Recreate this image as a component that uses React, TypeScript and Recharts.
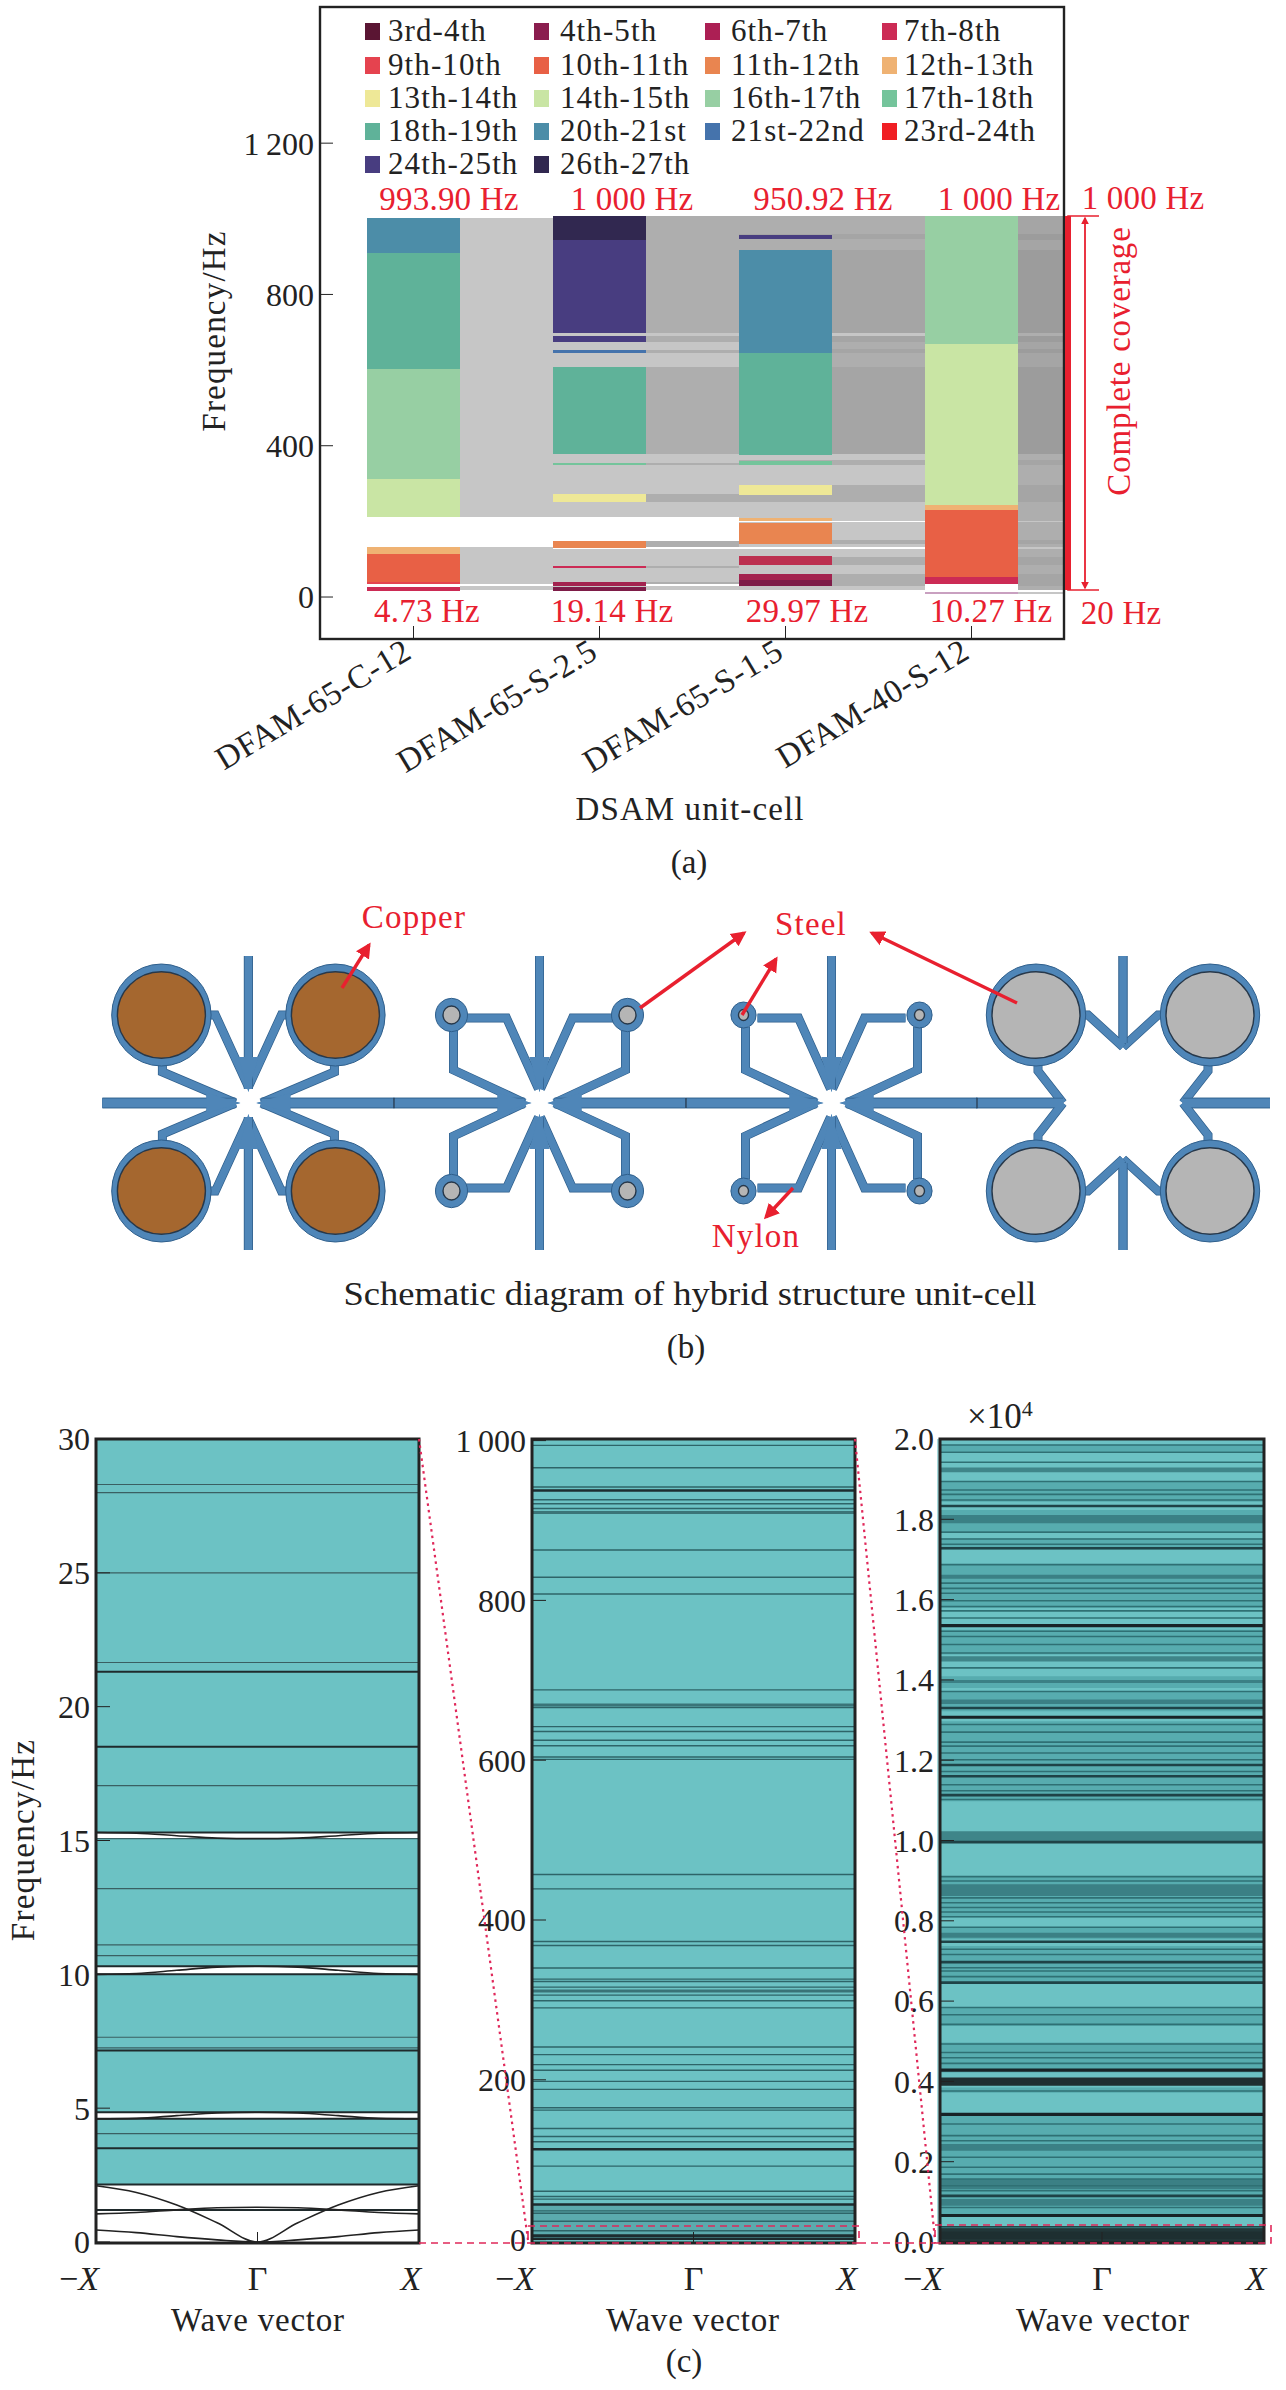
import {
  Area,
  Bar,
  BarChart,
  Cell,
  ComposedChart,
  Line,
  ReferenceArea,
  ReferenceLine,
  XAxis,
  YAxis,
} from "recharts";

const SERIF = "'Liberation Serif', serif";
const RED = "#E8202F";
const INK = "#222222";
const TEAL = "#6CC2C4";

// panel (a): legend
const legendLabels = [
  "3rd-4th", "4th-5th", "6th-7th", "7th-8th",
  "9th-10th", "10th-11th", "11th-12th", "12th-13th",
  "13th-14th", "14th-15th", "16th-17th", "17th-18th",
  "18th-19th", "20th-21st", "21st-22nd", "23rd-24th",
  "24th-25th", "26th-27th",
];
const legendColors = [
  "#5A1533", "#8A1D4E", "#AC1F54", "#CC2B55",
  "#E5434F", "#E86045", "#E98550", "#EFB273",
  "#EEE897", "#C9E5A4", "#97CFA3", "#74C49B",
  "#5FB299", "#4C8DA8", "#4573AC", "#F01F24",
  "#483D80", "#312850",
];
const bandColor: Record<string, string> = { faint: "#C9A0C0" };
legendLabels.forEach((l, i) => (bandColor[l] = legendColors[i]));
bandColor["3rd-4th"] = "#7E1C48";
bandColor["4th-5th"] = "#A3234F";
bandColor["6th-7th"] = "#BC3050";

// panel (a): band gaps per unit-cell [from, to, band]
const cellC12 = [
  [16, 26, "7th-8th"], [35, 41, "9th-10th"], [41, 113, "10th-11th"], [113, 131, "12th-13th"],
  [212, 313, "14th-15th"], [313, 602, "16th-17th"], [602, 909, "18th-19th"], [909, 1002, "20th-21st"],
];
const cellS25 = [
  [16, 26, "3rd-4th"], [29, 40, "4th-5th"], [78, 82, "7th-8th"], [130, 148, "11th-12th"],
  [252, 273, "13th-14th"], [348, 354, "17th-18th"], [379, 608, "18th-19th"], [644, 654, "21st-22nd"],
  [675, 690, "24th-25th"], [697, 945, "24th-25th"], [945, 1007, "26th-27th"],
];
const cellS15 = [
  [28, 44, "3rd-4th"], [44, 60, "4th-5th"], [84, 108, "6th-7th"], [141, 196, "11th-12th"],
  [200, 209, "12th-13th"], [270, 297, "13th-14th"], [348, 360, "17th-18th"], [375, 644, "18th-19th"],
  [644, 917, "20th-21st"], [947, 957, "24th-25th"],
];
const cellS12 = [
  [7, 12, "faint"], [35, 53, "7th-8th"], [53, 229, "10th-11th"], [229, 243, "12th-13th"],
  [243, 670, "14th-15th"], [670, 1007, "16th-17th"],
];

// panel (a): shared coverage beside each cell [from, to, number of cells]
const overlapA = [[18, 29, 1], [34, 131, 1], [212, 1002, 1]];
const overlapB = [
  [18, 29, 1], [35, 40, 2], [40, 78, 1], [78, 82, 2], [82, 127, 1], [131, 148, 2], [212, 252, 1],
  [252, 273, 2], [273, 348, 1], [348, 354, 2], [354, 379, 1], [379, 608, 2], [608, 644, 1],
  [644, 654, 2], [654, 675, 1], [675, 690, 2], [690, 697, 1], [697, 1007, 2],
];
const overlapC = [
  [18, 28, 1], [28, 60, 2], [60, 84, 1], [84, 106, 2], [106, 127, 1], [131, 141, 1], [141, 150, 2],
  [150, 198, 1], [201, 252, 1], [252, 297, 2], [297, 348, 1], [348, 362, 2], [362, 377, 1],
  [377, 608, 3], [608, 644, 2], [644, 656, 3], [656, 675, 2], [675, 690, 3], [690, 697, 1],
  [697, 917, 3], [917, 947, 2], [947, 961, 3], [961, 1007, 2],
];
const overlapD = [
  [7, 12, 1], [18, 28, 2], [28, 60, 3], [60, 84, 2], [84, 106, 3], [106, 127, 2], [127, 131, 1],
  [131, 141, 2], [141, 150, 3], [150, 198, 2], [198, 201, 1], [201, 252, 2], [252, 297, 3],
  [297, 348, 2], [348, 362, 3], [362, 377, 2], [377, 608, 4], [608, 644, 3], [644, 656, 4],
  [656, 675, 3], [675, 690, 4], [690, 697, 2], [697, 917, 4], [917, 944, 3], [944, 961, 4], [961, 1007, 3],
];
const overlapShades = ["#FFFFFF", "#C6C6C6", "#AEAEAE", "#A5A5A5", "#9C9C9C"];

const unitCells = ["DFAM-65-C-12", "DFAM-65-S-2.5", "DFAM-65-S-1.5", "DFAM-40-S-12"];
const freqTicksA = [0, 400, 800, 1200];
const topLabels = [
  ["993.90 Hz", 449], ["1 000 Hz", 632], ["950.92 Hz", 823], ["1 000 Hz", 999],
] as const;
const bottomLabels = [
  ["4.73 Hz", 427], ["19.14 Hz", 612], ["29.97 Hz", 807], ["10.27 Hz", 991],
] as const;

const toBands = (list: any[]) => list.map((s) => [s[0], s[1], bandColor[s[2]]]);
const toShades = (list: number[][]) => list.map((s) => [s[0], s[1], overlapShades[s[2]]]);

// the grey of a coverage band shows through wherever a cell has no band of its own
function withBackdrop(bands: any[], backdrop: any[]) {
  const out = [...bands];
  backdrop.forEach(([from, to, color]) => {
    let start = from;
    [...bands].sort((a, b) => a[0] - b[0]).forEach((b) => {
      if (b[1] <= start || b[0] >= to) return;
      if (b[0] > start) out.push([start, b[0], color]);
      start = Math.max(start, b[1]);
    });
    if (start < to) out.push([start, to, color]);
  });
  return out.sort((a, b) => a[0] - b[0]);
}

// stack the bands of each column, with an unfilled spacer below each one
const columns = [
  { x: 1, segs: toBands(cellC12) },
  { x: 2, segs: toShades(overlapA) },
  { x: 3, segs: withBackdrop(toBands(cellS25), toShades(overlapB)) },
  { x: 4, segs: toShades(overlapB) },
  { x: 5, segs: withBackdrop(toBands(cellS15), toShades(overlapC)) },
  { x: 6, segs: toShades(overlapC) },
  { x: 7, segs: toBands(cellS12) },
  { x: 8, segs: toShades(overlapD) },
];
const maxSegs = Math.max(...columns.map((c) => c.segs.length));
const stackRows = columns.map((c) => {
  const row: any = { x: c.x };
  let top = 0;
  for (let i = 0; i < maxSegs; i++) {
    const s = c.segs[i];
    row[`gap${i}`] = s ? (s[0] as number) - top : 0;
    row[`seg${i}`] = s ? (s[1] as number) - (s[0] as number) : 0;
    if (s) top = s[1] as number;
  }
  return row;
});
const segIndexes = Array.from({ length: maxSegs }, (_, i) => i);

// panel (c): left, low frequency dispersion
const waveVector = [-1, -0.75, -0.5, -0.25, 0, 0.25, 0.5, 0.75, 1];
const acousticLow = [0.45, 0.35, 0.2, 0.08, 0, 0.08, 0.2, 0.35, 0.45];
const acousticHigh = [2.1, 1.85, 1.38, 0.72, 0, 0.72, 1.38, 1.85, 2.1];
const opticalLow = [1.05, 1.1, 1.2, 1.28, 1.3, 1.28, 1.2, 1.1, 1.05];
const edgeCurve5 = [4.6, 4.62, 4.72, 4.82, 4.85, 4.82, 4.72, 4.62, 4.6];
const edgeCurve10 = [10, 10.03, 10.15, 10.27, 10.3, 10.27, 10.15, 10.03, 10];
const edgeCurve15 = [15.3, 15.27, 15.18, 15.09, 15.07, 15.09, 15.18, 15.27, 15.3];
const stopBandsLow = [2.15, 4.85, 10.3, 15.3];
const stopBandsHigh = [4.6, 10, 15.07, 30];
const lowRows = waveVector.map((x, i) => ({
  x,
  acousticLow: acousticLow[i],
  acousticHigh: acousticHigh[i],
  opticalLow: opticalLow[i],
  edgeCurve5: edgeCurve5[i],
  edgeCurve10: edgeCurve10[i],
  edgeCurve15: edgeCurve15[i],
  band0: [stopBandsLow[0], stopBandsHigh[0]],
  band1: [stopBandsLow[1], stopBandsHigh[1]],
  band2: [stopBandsLow[2], stopBandsHigh[2]],
  band3: [stopBandsLow[3], stopBandsHigh[3]],
}));
const lowThin = [28.3, 28.0, 25, 21.65, 17.05, 13.2, 11.1, 10.7, 7.65, 7.25, 4.05, 15.07];
const lowThick = [21.3, 18.5, 15.3, 10.3, 10, 7.15, 4.85, 4.6, 3.5, 2.15, 1.2];
const lowTicks = [0, 5, 10, 15, 20, 25, 30];

// panel (c): middle, up to 1 000 Hz
const midThin = [
  994, 966, 942, 926, 921, 915, 863, 829, 808, 688, 666, 642, 636, 625, 618, 604, 601, 457, 439,
  373, 368, 340, 326, 323, 316, 306, 299, 290, 241, 231.5, 219, 212, 198, 188, 165, 162, 139, 129,
  122.5, 92, 60.5, 54, 50.7, 36, 33, 23, 11,
];
const midMedium = [910, 669, 311];
const midThick = [937.5, 113, 44, 5, 1];
const midTicks = [0, 200, 400, 600, 800, 1000];

// panel (c): right, up to 20 000 Hz, in units of 10^4
const highThin = [
  1.985, 1.967, 1.942, 1.894, 1.873, 1.862, 1.848, 1.768, 1.751, 1.738, 1.687, 1.641, 1.628, 1.616,
  1.597, 1.583, 1.572, 1.554, 1.521, 1.508, 1.488, 1.467, 1.43, 1.371, 1.289, 1.27, 1.245, 1.235,
  1.218, 1.201, 1.172, 1.139, 1.124, 1.102, 0.91, 0.899, 0.857, 0.845, 0.833, 0.822, 0.81, 0.784,
  0.729, 0.716, 0.683, 0.675, 0.661, 0.584, 0.566, 0.542, 0.493, 0.472, 0.459, 0.445, 0.376, 0.294,
  0.265, 0.252, 0.211, 0.186, 0.169, 0.157, 0.14, 0.128, 0.086, 0.036,
];
const highThick = [1.833, 1.728, 1.33, 1.188, 1.16, 1.113, 0.996, 0.748, 0.697, 0.646, 0.115];
const highBlack = [1.535, 1.307, 0.428, 0.318, 0.066];
const highBands = [
  [1.917, 1.929], [1.79, 1.811], [1.652, 1.662], [1.446, 1.459], [1.392, 1.4], [1.34, 1.351],
  [0.994, 1.023], [0.862, 0.891], [0.758, 0.77], [0.227, 0.244], [0.132, 0.157], [0.09, 0.107],
];
const highDarkBands = [[0.389, 0.41], [0.007, 0.026]];
const highDenseZones = [
  [1.968, 1.985], [1.844, 1.894], [1.77, 1.823], [1.724, 1.753], [1.579, 1.687], [1.463, 1.525],
  [1.38, 1.409], [1.322, 1.371], [1.098, 1.297], [0.808, 0.911], [0.754, 0.784], [0.646, 0.737],
  [0.538, 0.584], [0.422, 0.497], [0.372, 0.385], [0.066, 0.314],
];
const highTicks = [0, 0.2, 0.4, 0.6, 0.8, 1, 1.2, 1.4, 1.6, 1.8, 2];
const edgeTicks = [-1, 0, 1];

const spaced = (v: number) => (v >= 1000 ? `${Math.floor(v / 1000)}\u2009${String(v % 1000).padStart(3, "0")}` : `${v}`);

function UnitCellTick({ x, y, payload }: any) {
  return (
    <text x={x} y={y} transform={`rotate(-31 ${x} ${y})`} textAnchor="end" fontFamily={SERIF} fontSize={33} letterSpacing={0.6} fill={INK}>
      {unitCells[(payload.value - 1) / 2]}
    </text>
  );
}

function WaveTick({ x, y, payload }: any) {
  const common = { y, fontFamily: SERIF, fontSize: 34, fill: INK };
  if (payload.value < 0) {
    return (
      <text {...common} x={x - 17} textAnchor="middle">
        {"\u2212"}
        <tspan fontStyle="italic">X</tspan>
      </text>
    );
  }
  if (payload.value > 0) {
    return <text {...common} x={x - 8} textAnchor="middle" fontStyle="italic">X</text>;
  }
  return <text {...common} x={x} textAnchor="middle">{"\u0393"}</text>;
}

const tickFont = { fontFamily: SERIF, fontSize: 32, fill: INK };

function BandPanel(props: {
  left: number; width: number; domain: number[]; ticks: number[]; format: (v: number) => string;
  rows: any[]; children?: any;
}) {
  const { left, width, domain, ticks, format, rows, children } = props;
  return (
    <div style={{ position: "absolute", left: left - 120, top: 1419 }}>
      <ComposedChart width={width + 140} height={900} data={rows} margin={{ top: 20, right: 20, bottom: 37, left: 20 }}>
        <XAxis
          dataKey="x" type="number" domain={[-1, 1]} ticks={edgeTicks} interval={0} height={40}
          axisLine={false} tickSize={-10} tickMargin={58} tick={<WaveTick />} stroke={INK}
        />
        <YAxis
          type="number" domain={domain} ticks={ticks} interval={0} width={100} axisLine={false}
          tickSize={-14} tickMargin={20} tick={tickFont} tickFormatter={format} stroke={INK} allowDataOverflow
        />
        {children}
      </ComposedChart>
    </div>
  );
}

// parts of the schematic, one quadrant of a cell, mirrored four times
const armV = (to: number) => `M0,-147 L0,${to}`;
const spikeTips = ["0,-11 10,-46 -10,-46", "8,0 42,-10 42,10"];
const wideRing = { circle: [87, -88], rx: 49.7, ry: 51, ix: 44, iy: 43.3 };
const slimPaths = ["M74,-85 L33,-85 L1,-14", "M86,-76 L86,-33 L15,0", armV(-14)];
const schematicCells = [
  {
    cx: 248.4, fill: "#A5672F", ...wideRing,
    paths: ["M42,-88 L33,-88 L0,-16", "M86,-40 L86,-31 L13,0", armV(-14)],
    arm: "M13,0 L146,0", tips: spikeTips,
  },
  { cx: 539.5, fill: "#B5B5B5", circle: [88, -88], rx: 16, ry: 16.7, ix: 8.5, iy: 9, paths: slimPaths, arm: "M15,0 L146,0", tips: spikeTips },
  { cx: 831.5, fill: "#B5B5B5", circle: [88, -88], rx: 12.6, ry: 13, ix: 5, iy: 5.5, paths: slimPaths, arm: "M15,0 L146,0", tips: spikeTips },
  {
    cx: 1123, fill: "#B5B5B5", ...wideRing,
    paths: ["M42,-88 L35,-88 L0,-56", "M85,-40 L85,-32 L60,0", armV(-60)],
    arm: "M60,0 L147,0", tips: [] as string[],
  },
];
const schematicArrows = [
  [342, 988, 369, 945], [640, 1008, 744, 933], [742, 1015, 776, 959], [1017, 1003, 872, 933], [793, 1188, 766, 1217],
];

function Cell4({ c }: { c: any }) {
  const blue = "#4F86B8";
  const edge = "#2F5F8C";
  const quadrant = (
    <>
      <g fill="none" stroke={edge} strokeWidth={9}>
        {c.paths.map((d: string) => <path key={d} d={d} />)}
        <path d={c.arm} strokeWidth={10.4} />
      </g>
      <g fill="none" stroke={blue} strokeWidth={7.6}>
        {c.paths.map((d: string) => <path key={d} d={d} />)}
        <path d={c.arm} strokeWidth={9} />
      </g>
      {c.tips.map((p: string) => <polygon key={p} points={p} fill={blue} />)}
      <ellipse cx={c.circle[0]} cy={c.circle[1]} rx={c.rx} ry={c.ry} fill={blue} stroke={edge} strokeWidth={1} />
      <ellipse cx={c.circle[0]} cy={c.circle[1]} rx={c.ix} ry={c.iy} fill={c.fill} stroke="#27384A" strokeWidth={1.4} />
    </>
  );
  return (
    <g>
      {[[1, 1], [-1, 1], [1, -1], [-1, -1]].map(([sx, sy]) => (
        <g key={`${sx}${sy}`} transform={`translate(${c.cx} 1103) scale(${sx} ${sy})`}>{quadrant}</g>
      ))}
    </g>
  );
}

function Txt(props: any) {
  const { x, y, size = 33, fill = INK, anchor = "middle", rotate, spacing, len, children } = props;
  return (
    <text
      x={x} y={y} fontFamily={SERIF} fontSize={size} fill={fill} textAnchor={anchor} letterSpacing={spacing}
      textLength={len} lengthAdjust={len ? "spacingAndGlyphs" : undefined}
      transform={rotate ? `rotate(${rotate} ${x} ${y})` : undefined}
    >
      {children}
    </text>
  );
}

export default function App() {
  return (
    <div style={{ position: "absolute", left: 0, top: 0, width: 1286, height: 2390, background: "#fff", overflow: "hidden" }}>
      {/* (a) */}
      <div style={{ position: "absolute", left: 0, top: 0 }}>
        <BarChart width={1286} height={820} data={stackRows} barCategoryGap={0} margin={{ top: 7, right: 222, bottom: 141, left: 220 }}>
          <XAxis
            dataKey="x" type="category" padding={{ left: 47, right: -47 }} interval={1} height={40} allowDataOverflow
            axisLine={false} tickSize={-13} tickMargin={31} tick={<UnitCellTick />} stroke={INK}
          />
          <YAxis
            type="number" domain={[-111, 1560]} ticks={freqTicksA} interval={0} width={100} axisLine={false}
            tickSize={-13} tickMargin={19} tick={tickFont} tickFormatter={spaced} stroke={INK} allowDataOverflow
          />
          {segIndexes.map((i) => [
            <Bar key={`gap${i}`} dataKey={`gap${i}`} stackId="a" fill="none" isAnimationActive={false} />,
            <Bar key={`seg${i}`} dataKey={`seg${i}`} stackId="a" isAnimationActive={false} shapeRendering="crispEdges">
              {columns.map((c) => (
                <Cell key={c.x} fill={c.segs[i] ? (c.segs[i][2] as string) : "none"} />
              ))}
            </Bar>,
          ])}
        </BarChart>
      </div>

      {/* (c) */}
      <BandPanel left={96} width={323} domain={[0, 30]} ticks={lowTicks} format={(v) => `${v}`} rows={lowRows}>
        {[0, 1, 2, 3].map((i) => (
          <Area key={i} dataKey={`band${i}`} type="linear" fill={TEAL} fillOpacity={1} stroke="none" isAnimationActive={false} dot={false} activeDot={false} />
        ))}
        {lowThin.map((v) => <ReferenceLine key={v} y={v} stroke="#3A5F62" strokeWidth={1.2} />)}
        {lowThick.map((v) => <ReferenceLine key={v} y={v} stroke="#1F2A2C" strokeWidth={2} />)}
        {["acousticLow", "acousticHigh", "opticalLow", "edgeCurve5", "edgeCurve10", "edgeCurve15"].map((k) => (
          <Line key={k} dataKey={k} type="monotone" stroke={INK} strokeWidth={1.6} dot={false} activeDot={false} isAnimationActive={false} />
        ))}
      </BandPanel>

      <BandPanel left={532} width={323} domain={[-3, 1002]} ticks={midTicks} format={spaced} rows={waveVector.map((x) => ({ x, full: [-3, 1002] }))}>
        <Area dataKey="full" type="linear" fill={TEAL} fillOpacity={1} stroke="none" isAnimationActive={false} dot={false} activeDot={false} />
        <ReferenceArea y1={1} y2={44} fill="#3D7F85" fillOpacity={0.35} stroke="none" />
        {midThin.map((v) => <ReferenceLine key={v} y={v} stroke="#2E6468" strokeWidth={1.4} />)}
        {midMedium.map((v) => <ReferenceLine key={v} y={v} stroke="#3A7478" strokeWidth={3} />)}
        {midThick.map((v) => <ReferenceLine key={v} y={v} stroke="#1D2D30" strokeWidth={2.6} />)}
      </BandPanel>

      <BandPanel left={940} width={324} domain={[0, 2]} ticks={highTicks} format={(v) => v.toFixed(1)} rows={waveVector.map((x) => ({ x, full: [0, 2] }))}>
        <Area dataKey="full" type="linear" fill={TEAL} fillOpacity={1} stroke="none" isAnimationActive={false} dot={false} activeDot={false} />
        {highDenseZones.map(([a, b]) => <ReferenceArea key={a} y1={a} y2={b} fill="#4FA3A6" fillOpacity={0.7} stroke="none" />)}
        {highBands.map(([a, b]) => <ReferenceArea key={a} y1={a} y2={b} fill="#35757A" fillOpacity={0.8} stroke="none" />)}
        {highDarkBands.map(([a, b]) => <ReferenceArea key={a} y1={a} y2={b} fill="#1F2F31" fillOpacity={1} stroke="none" />)}
        <ReferenceArea y1={0} y2={0.04} fill="#1F2F31" fillOpacity={0.95} stroke="none" />
        {highThin.map((v) => <ReferenceLine key={v} y={v} stroke="#2F7074" strokeWidth={1.6} />)}
        {highThick.map((v) => <ReferenceLine key={v} y={v} stroke="#1F4347" strokeWidth={2.6} />)}
        {highBlack.map((v) => <ReferenceLine key={v} y={v} stroke="#172326" strokeWidth={3.2} />)}
      </BandPanel>

      {/* frames, annotations and the schematic */}
      <svg width={1286} height={2390} style={{ position: "absolute", left: 0, top: 0, pointerEvents: "none" }}>
        <defs>
          <marker id="redHead" viewBox="0 0 10 10" refX="8" refY="5" markerWidth="4.5" markerHeight="5" orient="auto-start-reverse">
            <path d="M0,0 L10,5 L0,10 z" fill={RED} />
          </marker>
        </defs>

        {/* the last column stops at the frame */}
        <rect x={1064} y={200} width={60} height={420} fill="#fff" />
        <rect x={320} y={7} width={744} height={632} fill="none" stroke={INK} strokeWidth={2.4} />
        {legendLabels.map((label, i) => {
          const col = i % 4;
          const row = Math.floor(i / 4);
          const squareX = [365, 534, 705, 882][col];
          const textX = [388, 560, 731, 904][col];
          const rowY = [31, 65, 98, 131, 164][row];
          return (
            <g key={label}>
              <rect x={squareX} y={rowY - 8} width={15} height={17} fill={legendColors[i]} />
              <Txt x={textX} y={rowY + 10} size={31} anchor="start" spacing={1.1}>{label}</Txt>
            </g>
          );
        })}
        {topLabels.map(([t, x]) => <Txt key={x} x={x} y={210} fill={RED} spacing={0.2}>{t}</Txt>)}
        <Txt x={1143} y={209} fill={RED} spacing={0.2}>1 000 Hz</Txt>
        {bottomLabels.map(([t, x]) => <Txt key={x} x={x} y={622} fill={RED} spacing={0.2}>{t}</Txt>)}
        <Txt x={1121} y={624} fill={RED} spacing={0.2}>20 Hz</Txt>
        <path d="M1099,216 L1068,216 L1068,590 L1099,590" fill="none" stroke={RED} strokeWidth={1.6} />
        <line x1={1068} y1={216} x2={1068} y2={590} stroke={RED} strokeWidth={6} />
        <line x1={1085} y1={218} x2={1085} y2={588} stroke={RED} strokeWidth={1.8} markerStart="url(#redHead)" markerEnd="url(#redHead)" />
        <Txt x={1130} y={361} fill={RED} rotate={-90} spacing={0.8}>Complete coverage</Txt>
        <Txt x={225} y={331} rotate={-90} spacing={1.2}>Frequency/Hz</Txt>
        <Txt x={690} y={820} spacing={1.1}>DSAM unit-cell</Txt>
        <Txt x={689} y={873}>(a)</Txt>

        {/* (b) */}
        {schematicCells.map((c) => <Cell4 key={c.cx} c={c} />)}
        {[394, 686, 977].map((x) => <line key={x} x1={x} y1={1098} x2={x} y2={1108} stroke="#27384A" strokeWidth={1.2} />)}
        {schematicArrows.map(([x1, y1, x2, y2]) => (
          <line key={x1} x1={x1} y1={y1} x2={x2} y2={y2} stroke={RED} strokeWidth={3.4} markerEnd="url(#redHead)" />
        ))}
        <Txt x={414} y={928} fill={RED} spacing={1.2}>Copper</Txt>
        <Txt x={811} y={935} fill={RED} spacing={1.2}>Steel</Txt>
        <Txt x={756} y={1247} fill={RED} spacing={1.2}>Nylon</Txt>
        <Txt x={690} y={1305} len={693}>Schematic diagram of hybrid structure unit-cell</Txt>
        <Txt x={686} y={1358}>(b)</Txt>

        {/* (c) */}
        <rect x={937} y={1439} width={3} height={804} fill={TEAL} opacity={0.6} />
        <rect x={96} y={1439} width={323} height={804} fill="none" stroke={INK} strokeWidth={3} />
        <rect x={532} y={1439} width={323} height={804} fill="none" stroke={INK} strokeWidth={3} />
        <rect x={940} y={1439} width={324} height={804} fill="none" stroke={INK} strokeWidth={3} />
        <g fill="none" stroke="#E0285A" strokeWidth={2.2}>
          <g strokeDasharray="2.5 4">
            <line x1={419} y1={1439} x2={528} y2={2240} />
            <line x1={855} y1={1439} x2={935} y2={2240} />
          </g>
          <g strokeDasharray="7 5" strokeWidth={1.6}>
            <line x1={419} y1={2243} x2={528} y2={2243} />
            <line x1={859} y1={2243} x2={935} y2={2243} />
            <rect x={528} y={2226} width={331} height={17} />
            <rect x={935} y={2225} width={336} height={18} />
          </g>
        </g>
        <Txt x={34} y={1840} rotate={-90} spacing={1.3}>Frequency/Hz</Txt>
        <Txt x={258} y={2331} spacing={0.8}>Wave vector</Txt>
        <Txt x={693} y={2331} spacing={0.8}>Wave vector</Txt>
        <Txt x={1103} y={2331} spacing={0.8}>Wave vector</Txt>
        <Txt x={684} y={2372}>(c)</Txt>
        <text x={967} y={1428} fontFamily={SERIF} fontSize={35} fill={INK}>
          {"\u00D710"}
          <tspan fontSize={22} dy={-12}>4</tspan>
        </text>
      </svg>
    </div>
  );
}
